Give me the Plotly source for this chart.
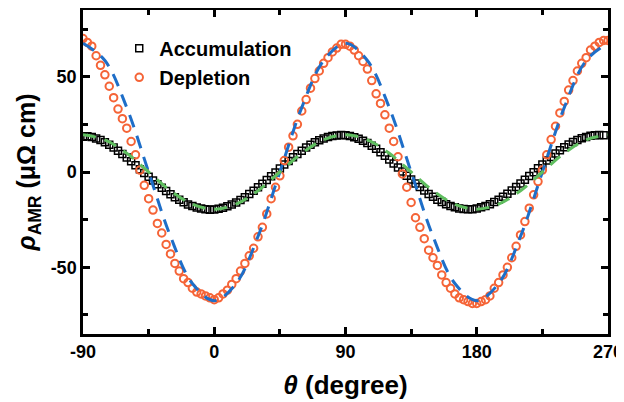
import plotly.graph_objects as go

theta = list(range(-90, 271, 3))

depletion = [70, 68, 66, 61, 56, 51, 45, 39, 33, 28, 23, 16, 9, 1, -7, -14, -20, -27, -32, -38,
             -43, -48, -52, -56, -58, -61, -63, -64, -65, -66, -67, -66, -64, -62, -59, -56, -52, -48, -44, -40,
             -34, -29, -22, -14, -8, -2, 6, 13, 19, 25, 32, 38, 44, 49, 53, 57, 60, 63, 65, 67,
             67, 66, 64, 61, 58, 54, 48, 41, 36, 30, 23, 16, 8, -1, -8, -16, -24, -29, -35, -41,
             -45, -49, -54, -58, -61, -64, -66, -67, -68, -69, -69, -68, -67, -65, -61, -58, -54, -50, -45, -39,
             -33, -26, -19, -12, -5, 1, 9, 17, 24, 31, 37, 43, 48, 53, 57, 60, 64, 66, 68, 69, 69]

accumulation = [18.5, 18.8, 18.3, 17.6, 16.8, 15.6, 14.3, 12.8, 11.2, 9.5, 7.6, 5.6, 3.6, 1.5, -0.5, -2.5,
                -4.5, -6.4, -8.2, -10.0, -11.7, -13.2, -14.6, -15.9, -17.0, -17.9, -18.6, -19.2, -19.6, -19.8,
                -19.7, -19.3, -18.7, -18.0, -17.1, -16.0, -14.7, -13.2, -11.6, -9.9, -8.0, -6.2, -4.2, -2.2, -0.2,
                1.9, 3.9, 5.8, 7.7, 9.5, 11.2, 12.8, 14.3, 15.6, 16.7, 17.6, 18.3, 18.9, 19.2, 19.4, 19.3,
                18.9, 18.2, 17.4, 16.4, 15.2, 13.8, 12.2, 10.4, 8.5, 6.5, 4.4, 2.3, 0.2, -2.0, -4.0, -6.0,
                -7.9, -9.7, -11.5, -13.0, -14.5, -15.8, -16.9, -17.8, -18.5, -19.1, -19.4, -19.6, -19.5,
                -19.1, -18.5, -17.8, -16.9, -15.8, -14.5, -13.0, -11.4, -9.7, -7.9, -6.0, -4.1, -2.1, -0.1,
                2.0, 4.0, 6.0, 7.9, 9.7, 11.4, 13.0, 14.4, 15.7, 16.8, 17.7, 18.4, 19.0, 19.3, 19.4, 19.3]

fit_theta = list(range(-90, 271, 15))
fit_depletion = [67.5, 58.5, 33.8, 0, -33.8, -58.5, -67.5, -58.5, -33.8, 0, 33.8, 58.5, 67.5,
                 58.5, 33.8, 0, -33.8, -58.5, -67.5, -58.5, -33.8, 0, 33.8, 58.5, 67.5]
fit_accumulation = [19.5, 16.9, 9.8, 0, -9.8, -16.9, -19.5, -16.9, -9.8, 0, 9.8, 16.9, 19.5,
                    16.9, 9.8, 0, -9.8, -16.9, -19.5, -16.9, -9.8, 0, 9.8, 16.9, 19.5]

x_ticks = [-90, 0, 90, 180, 270]
x_minor = [-45, 45, 135, 225]
y_ticks = [-50, 0, 50]
y_minor = [-75, -25, 25, 75]

FONT = "Liberation Sans"

fig = go.Figure()
fig.add_trace(go.Scatter(x=theta, y=accumulation, mode="markers", name="Accumulation",
                         marker=dict(symbol="square-open", size=7, color="black", line=dict(width=1.5))))
fig.add_trace(go.Scatter(x=theta, y=depletion, mode="markers", name="Depletion",
                         marker=dict(symbol="circle-open", size=7.5, color="rgb(245,100,55)", line=dict(width=2))))
fig.add_trace(go.Scatter(x=fit_theta, y=fit_depletion, mode="lines", line_shape="spline", showlegend=False,
                         line=dict(color="rgb(30,110,200)", width=3, dash="13px,9px")))
fig.add_trace(go.Scatter(x=fit_theta, y=fit_accumulation, mode="lines", line_shape="spline", showlegend=False,
                         line=dict(color="rgb(95,190,95)", width=3, dash="13px,9px")))

axis_common = dict(showline=True, linecolor="black", linewidth=2.5, mirror="allticks",
                   ticks="inside", ticklen=7, tickwidth=2.5, tickcolor="black",
                   showgrid=False, zeroline=False, automargin=False,
                   tickfont=dict(family=FONT, size=18, color="black", weight="bold"))

fig.update_xaxes(range=[-90, 270], tickvals=x_ticks, ticktext=[str(v) for v in x_ticks],
                 minor=dict(ticks="inside", tickvals=x_minor, ticklen=5, tickwidth=2.5, tickcolor="black"),
                 title=dict(text="<i>θ</i> (degree)", font=dict(family=FONT, size=26, color="black", weight="bold"),
                            standoff=15),
                 **axis_common)
fig.update_yaxes(range=[-85, 85], tickvals=y_ticks, ticktext=[str(v) for v in y_ticks],
                 minor=dict(ticks="inside", tickvals=y_minor, ticklen=5, tickwidth=2.5, tickcolor="black"),
                 title=dict(text="<i>ρ</i><sub>AMR</sub> (μΩ cm)",
                            font=dict(family=FONT, size=25, color="black", weight="bold"), standoff=8),
                 **axis_common)

# the page body adds an 8px offset, so the figure is sized/margined to land the plot area where the reference has it
fig.update_layout(width=616, height=394, margin=dict(l=75, r=16, t=2, b=68),
                  paper_bgcolor="white", plot_bgcolor="white",
                  legend=dict(x=0.069, y=0.942, xanchor="left", yanchor="top", bgcolor="rgba(0,0,0,0)",
                              font=dict(family=FONT, size=20, color="black", weight="bold"),
                              itemwidth=30, tracegroupgap=0))

fig.write_html("out.html")
